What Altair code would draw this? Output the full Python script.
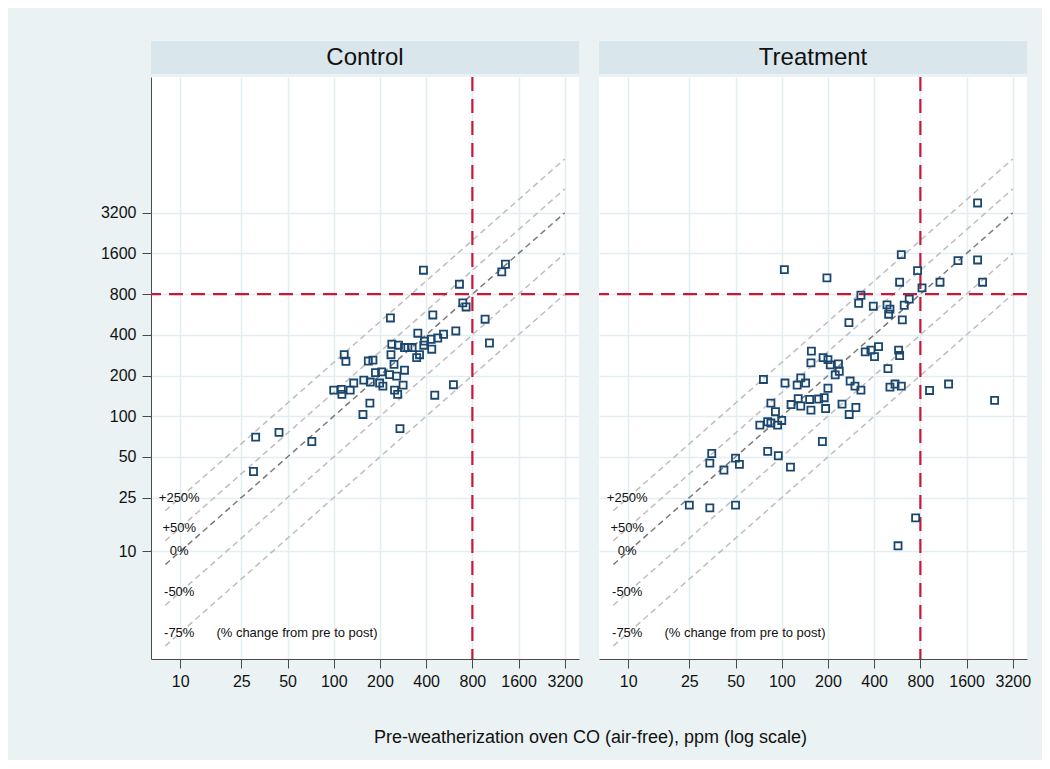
import altair as alt
import pandas as pd

# ---------------- data ----------------
ctrl_pre = [384, 659, 1243, 1314, 693, 728, 968, 1034, 442, 234,
            624, 519, 476, 431, 390, 353, 386, 435, 362, 347,
            324, 304, 289, 264, 239, 236, 247, 117, 120, 168,
            180, 187, 205, 231, 257, 289, 157, 173, 199, 209,
            135, 100, 112, 113, 128, 249, 261, 283, 602, 455,
            172, 155, 270, 72, 31, 44, 30]
ctrl_post = [1202, 947, 1168, 1331, 689, 643, 522, 348, 561, 533,
             427, 404, 379, 371, 359, 411, 335, 313, 285, 271,
             322, 322, 322, 335, 341, 285, 242, 285, 255, 256,
             260, 210, 213, 203, 198, 219, 185, 179, 176, 167,
             176, 156, 158, 145, 156, 156, 145, 170, 171, 143,
             125, 103, 81, 65, 70, 76, 39]

trt_pre = [104, 156, 155, 76, 105, 133, 126, 143, 128, 152,
           174, 115, 133, 155, 85, 91, 81, 72, 85, 94,
           100, 81, 95, 114, 35, 34, 50, 53, 42, 25,
           34, 50, 745, 572, 1887, 197, 601, 767, 586, 820,
           1074, 1406, 1887, 2034, 328, 317, 395, 485, 507, 497,
           628, 677, 610, 274, 186, 200, 207, 234, 237, 223,
           350, 381, 402, 427, 577, 586, 492, 279, 300, 328,
           200, 507, 547, 601, 918, 1221, 2436, 189, 193, 247,
           304, 275, 184]
trt_post = [1214, 303, 248, 187, 176, 192, 170, 176, 135, 133,
            134, 122, 119, 111, 125, 108, 91, 86, 89, 86,
            93, 55, 51, 42, 53, 45, 49, 44, 40, 22,
            21, 22, 17.7, 11, 3780, 1054, 1568, 1194, 980, 889,
            980, 1415, 1432, 980, 785, 685, 651, 666, 619, 568,
            662, 734, 516, 492, 271, 262, 240, 244, 215, 202,
            299, 308, 276, 327, 308, 281, 225, 182, 167, 156,
            161, 164, 173, 167, 155, 173, 131, 137, 114, 123,
            116, 103, 65]

panels = ["Control", "Treatment"]
x_ticks = [10, 25, 50, 100, 200, 400, 800, 1600, 3200]
y_ticks = [10, 25, 50, 100, 200, 400, 800, 1600, 3200]
x_domain = [6.45, 3960]
y_domain = [1.6, 32300]

line_names = ["+250%", "+50%", "0%", "-50%", "-75%"]
line_x_start = [8, 8, 8, 8, 8]
line_x_end = [3200, 3200, 3200, 3200, 3200]
line_y_start = [20, 12, 8, 4, 2]
line_y_end = [8000, 4800, 3200, 1600, 800]
line_kind = ["other", "other", "zero", "other", "other"]

label_x = [9.85, 9.85, 9.85, 9.85, 9.85]
label_y = [25, 15, 10, 5, 2.5]
note_text = ["(% change from pre to post)"]
note_x = [17.2]
note_y = [2.5]

threshold = [800]
x_title = "Pre-weatherization oven CO (air-free), ppm (log scale)"

# ---------------- style ----------------
FONT = "Liberation Sans"
NAVY = "#1A476F"
RED = "#C8193C"
HEADER = "#D9E6EB"
BG = "#EAF2F3"
GRID = "#E4EDF0"
AXC = "#4a4a4a"
PW, PH, HH = 428, 582, 33


def panel(name, pre, post, left):
    xs = alt.Scale(type="log", domain=x_domain, nice=False)
    ys = alt.Scale(type="log", domain=y_domain, nice=False)
    xaxis = alt.Axis(values=x_ticks, title=None, labelFontSize=16, labelFont=FONT,
                     labelColor="#111", tickSize=9, tickColor=AXC, domainColor=AXC,
                     labelPadding=5, grid=True, gridColor=GRID, gridWidth=1.5,
                     format="d", labelOverlap=False, labelFlush=False)
    if left:
        yaxis = alt.Axis(values=y_ticks, title=None, labelFontSize=16, labelFont=FONT,
                         labelColor="#111", tickSize=9, tickColor=AXC, domainColor=AXC,
                         labelPadding=6, grid=True, gridColor=GRID, gridWidth=1.5,
                         format="d", labelOverlap=False, labelFlush=False)
    else:
        yaxis = alt.Axis(values=y_ticks, title=None, labels=False, ticks=False,
                         domain=False, grid=True, gridColor=GRID, gridWidth=1.5)

    rows = []
    for i, n in enumerate(line_names):
        rows.append({"x": line_x_start[i], "y": line_y_start[i], "line": n, "kind": line_kind[i]})
        rows.append({"x": line_x_end[i], "y": line_y_end[i], "line": n, "kind": line_kind[i]})
    diag_df = pd.DataFrame(rows)

    diag = alt.Chart(diag_df).mark_line(strokeDash=[6, 4], strokeWidth=1.5).encode(
        x=alt.X("x:Q", scale=xs, axis=xaxis),
        y=alt.Y("y:Q", scale=ys, axis=yaxis),
        detail="line:N",
        color=alt.Color("kind:N", scale=alt.Scale(domain=["zero", "other"],
                                                  range=["#7a7a7a", "#BEBEBE"]),
                        legend=None),
    )

    thr = pd.DataFrame({"v": threshold})
    vrule = alt.Chart(thr).mark_rule(color=RED, strokeWidth=2.2, strokeDash=[14, 8]).encode(
        x=alt.X("v:Q", scale=xs))
    hrule = alt.Chart(thr).mark_rule(color=RED, strokeWidth=2.2, strokeDash=[14, 8]).encode(
        y=alt.Y("v:Q", scale=ys))

    pts = alt.Chart(pd.DataFrame({"pre": pre, "post": post})).mark_point(
        shape="square", filled=False, size=50, strokeWidth=1.8, color=NAVY, opacity=1
    ).encode(x=alt.X("pre:Q", scale=xs), y=alt.Y("post:Q", scale=ys))

    labs = alt.Chart(pd.DataFrame({"x": label_x, "y": label_y, "t": line_names})).mark_text(
        fontSize=13, font=FONT, color="#111", align="center", baseline="middle"
    ).encode(x=alt.X("x:Q", scale=xs), y=alt.Y("y:Q", scale=ys), text="t:N")

    note = alt.Chart(pd.DataFrame({"x": note_x, "y": note_y, "t": note_text})).mark_text(
        fontSize=13, font=FONT, color="#111", align="left", baseline="middle"
    ).encode(x=alt.X("x:Q", scale=xs), y=alt.Y("y:Q", scale=ys), text="t:N")

    plot = alt.layer(diag, hrule, vrule, pts, labs, note).properties(width=PW, height=PH)

    hdr = alt.Chart(pd.DataFrame({"t": [name]})).mark_text(
        fontSize=24, font=FONT, color="#111", baseline="middle", align="center"
    ).encode(text="t:N").properties(
        width=PW, height=HH, view=alt.ViewBackground(fill=HEADER, stroke=None))

    return alt.vconcat(hdr, plot, spacing=1)


left = panel(panels[0], ctrl_pre, ctrl_post, True)
right = panel(panels[1], trt_pre, trt_post, False)

chart = alt.hconcat(left, right, spacing=14).properties(
    title=alt.TitleParams(text=x_title, orient="bottom", anchor="middle", fontSize=18,
                          font=FONT, fontWeight="normal", color="#111", offset=40, dx=25),
    padding={"left": 92, "top": 33, "right": 11, "bottom": 13},
    background=BG,
).configure_view(stroke=None, fill="white")

chart.save("out.html", embed_options={"renderer": "svg", "actions": False})
